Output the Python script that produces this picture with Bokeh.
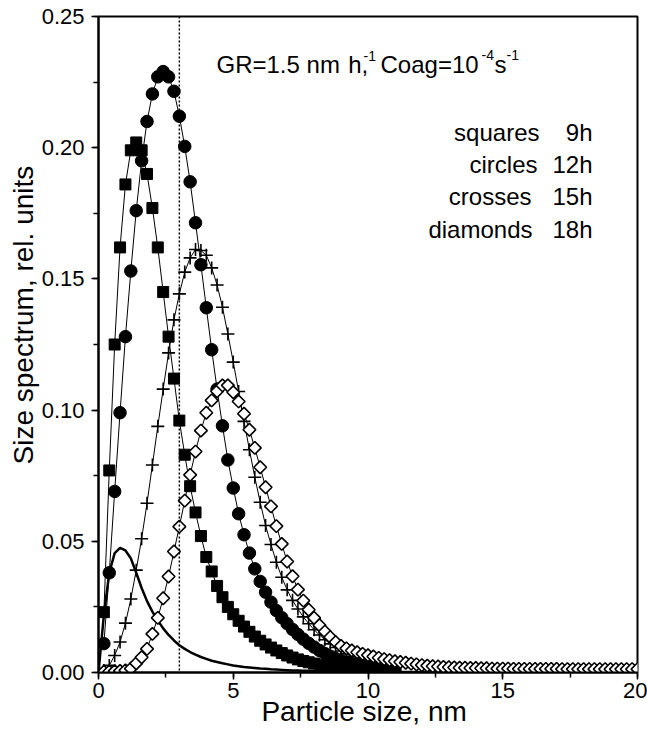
import math
from bokeh.plotting import figure
from bokeh.models import Range1d, SingleIntervalTicker, NumeralTickFormatter, Label, Span, Title
from bokeh.embed import file_html
from bokeh.resources import INLINE

# ---------------- data ----------------
size_grid = [
    0.0, 0.2, 0.4, 0.6, 0.8, 1.0, 1.2, 1.4, 1.6, 1.8,
    2.0, 2.2, 2.4, 2.6, 2.8, 3.0, 3.2, 3.4, 3.6, 3.8,
    4.0, 4.2, 4.4, 4.6, 4.8, 5.0, 5.2, 5.4, 5.6, 5.8,
    6.0, 6.2, 6.4, 6.6, 6.8, 7.0, 7.2, 7.4, 7.6, 7.8,
    8.0, 8.2, 8.4, 8.6, 8.8, 9.0, 9.2, 9.4, 9.6, 9.8,
    10.0, 10.2, 10.4, 10.6, 10.8, 11.0, 11.2, 11.4, 11.6, 11.8,
    12.0, 12.2, 12.4, 12.6, 12.8, 13.0, 13.2, 13.4, 13.6, 13.8,
    14.0, 14.2, 14.4, 14.6, 14.8, 15.0, 15.2, 15.4, 15.6, 15.8,
    16.0, 16.2, 16.4, 16.6, 16.8, 17.0, 17.2, 17.4, 17.6, 17.8,
    18.0, 18.2, 18.4, 18.6, 18.8, 19.0, 19.2, 19.4, 19.6, 19.8,
    20.0,
]

# solid curve (no symbols), from 0.0 nm
solid_curve = [
    0.0, 0.022, 0.038, 0.0455, 0.0475, 0.0465, 0.0435, 0.038, 0.0322, 0.0272,
    0.0232, 0.0198, 0.0168, 0.0143, 0.0122, 0.0104, 0.0090, 0.0078, 0.0068, 0.0059,
    0.0052, 0.0045, 0.0040, 0.0035, 0.0031, 0.0027, 0.0024, 0.0021, 0.0019, 0.0017,
    0.0015, 0.0014, 0.0012, 0.0011, 0.0010, 0.0009, 0.0008, 0.0008, 0.0007, 0.0007,
    0.0006, 0.0006, 0.0005, 0.0005, 0.0005, 0.0004, 0.0004, 0.0004, 0.0003, 0.0003,
    0.0003, 0.0003, 0.0003, 0.0003, 0.0003, 0.0003, 0.0002, 0.0002, 0.0002, 0.0002,
    0.0002, 0.0002, 0.0002, 0.0002, 0.0002, 0.0002, 0.0002, 0.0002, 0.0002, 0.0002,
    0.0002, 0.0001, 0.0001, 0.0001, 0.0001, 0.0001, 0.0001, 0.0001, 0.0001, 0.0001,
    0.0001, 0.0001, 0.0001, 0.0001, 0.0001, 0.0001, 0.0001, 0.0001, 0.0001, 0.0001,
    0.0001, 0.0001, 0.0001, 0.0001, 0.0001, 0.0001, 0.0001, 0.0001, 0.0001, 0.0001,
    0.0001,
]

# symbol series, from 0.2 nm
squares_9h = [
    0.023, 0.077, 0.125, 0.162, 0.186, 0.199, 0.202, 0.199, 0.190, 0.177,
    0.162, 0.145, 0.128, 0.112, 0.096, 0.083, 0.071, 0.061, 0.052, 0.044,
    0.0385, 0.033, 0.0287, 0.025, 0.0222, 0.0197, 0.0175, 0.0155, 0.0137, 0.0121,
    0.0107, 0.0095, 0.0084, 0.0074, 0.0065, 0.0057, 0.0050, 0.0044, 0.0039, 0.0034,
    0.0030, 0.0026, 0.0023, 0.0020, 0.0017, 0.0015, 0.0013, 0.0011, 0.0010, 0.0009,
    0.0008, 0.0007, 0.0006, 0.0005, 0.0005,
]
circles_12h = [
    0.011, 0.038, 0.069, 0.099, 0.128, 0.153, 0.176, 0.195, 0.210, 0.2205,
    0.227, 0.229, 0.227, 0.2215, 0.212, 0.2005, 0.187, 0.1714, 0.1554, 0.139,
    0.123, 0.108, 0.094, 0.081, 0.0703, 0.0605, 0.0525, 0.0455, 0.0395, 0.0347,
    0.0306, 0.0268, 0.0236, 0.0209, 0.0186, 0.0164, 0.0145, 0.0127, 0.0111, 0.0097,
    0.0084, 0.0072, 0.0062, 0.0053, 0.0045, 0.0039, 0.0033, 0.0028, 0.0024, 0.0021,
    0.0018, 0.0016, 0.0014, 0.0012, 0.0011,
]
crosses_15h = [
    0.0008, 0.0027, 0.0065, 0.0116, 0.0188, 0.028, 0.039, 0.051, 0.0645, 0.0791,
    0.0938, 0.108, 0.1218, 0.1344, 0.1443, 0.1526, 0.158, 0.1612, 0.1608, 0.159,
    0.1542, 0.1477, 0.1392, 0.129, 0.1183, 0.1071, 0.0957, 0.0849, 0.0744, 0.0649,
    0.056, 0.0488, 0.042, 0.0363, 0.0315, 0.0275, 0.0242, 0.0212, 0.0186, 0.0163,
    0.0143, 0.0125, 0.0109, 0.0095, 0.0082, 0.0071, 0.0062, 0.0054, 0.0047, 0.0041,
    0.0036, 0.0031, 0.0027, 0.0024, 0.0021,
]
diamonds_18h = [
    0.0003, 0.0004, 0.0005, 0.0006, 0.0008, 0.0015, 0.0035, 0.0058, 0.009, 0.0147,
    0.0208, 0.0283, 0.0366, 0.0461, 0.0556, 0.0655, 0.0753, 0.0842, 0.0922, 0.099,
    0.1037, 0.1072, 0.1094, 0.1094, 0.1068, 0.1033, 0.0986, 0.0925, 0.0856, 0.0782,
    0.0706, 0.0633, 0.0558, 0.049, 0.0423, 0.0367, 0.0316, 0.0274, 0.0239, 0.0208,
    0.018, 0.0156, 0.0135, 0.0116, 0.0101, 0.0092, 0.0084, 0.0077, 0.0071, 0.0066,
    0.0061, 0.0056, 0.0051, 0.0047, 0.0043, 0.0040, 0.0037, 0.0034, 0.0031, 0.0028,
    0.0026, 0.0024, 0.0023, 0.0021, 0.0020, 0.0019, 0.0018, 0.0018, 0.0017, 0.0017,
    0.0016, 0.0016, 0.0015, 0.0015, 0.0015, 0.0015, 0.0014, 0.0014, 0.0014, 0.0014,
    0.0014, 0.0014, 0.0014, 0.0014, 0.0014, 0.0013, 0.0013, 0.0013, 0.0013, 0.0013,
    0.0013, 0.0013, 0.0013, 0.0013, 0.0013, 0.0013, 0.0013, 0.0013, 0.0013, 0.0013,
]

reference_size_nm = 3.0
legend_words = ["squares", "circles", "crosses", "diamonds"]
legend_times = ["9h", "12h", "15h", "18h"]

x_ticks_interval = 5
y_ticks_interval = 0.05

# ---------------- figure ----------------
W, H = 647, 732
L, R, T, B = 98, 10, 16, 60
FONT = "Liberation Sans"

p = figure(width=W, height=H, x_range=Range1d(0, 20), y_range=Range1d(0, 0.25),
           output_backend="svg", toolbar_location=None,
           min_border_left=L, min_border_right=R, min_border_top=T, min_border_bottom=B)
p.xgrid.visible = False
p.ygrid.visible = False
p.outline_line_color = "black"
p.outline_line_width = 2
p.outline_line_alpha = 1.0
p.background_fill_color = "white"
p.border_fill_color = "white"

p.xaxis.ticker = SingleIntervalTicker(interval=x_ticks_interval, num_minor_ticks=2)
p.yaxis.ticker = SingleIntervalTicker(interval=y_ticks_interval, num_minor_ticks=2)
p.yaxis.formatter = NumeralTickFormatter(format="0.00")
for ax in (p.xaxis, p.yaxis):
    ax.axis_line_width = 2
    ax.axis_line_color = "black"
    ax.major_tick_in = 0
    ax.major_tick_out = 7
    ax.minor_tick_in = 0
    ax.minor_tick_out = 5
    ax.major_tick_line_width = 1.5
    ax.minor_tick_line_width = 1.5
    ax.major_tick_line_color = "black"
    ax.minor_tick_line_color = "black"
    ax.major_label_text_font = FONT
    ax.major_label_text_font_size = "22px"
    ax.major_label_text_color = "black"
p.xaxis.major_label_standoff = 3
p.yaxis.major_label_standoff = 7

p.xaxis.axis_label = "Particle size,  nm"
p.xaxis.axis_label_text_font = FONT
p.xaxis.axis_label_text_font_size = "28px"
p.xaxis.axis_label_text_font_style = "normal"
p.xaxis.axis_label_text_color = "black"
p.xaxis.axis_label_standoff = -5

p.add_layout(Title(text="Size spectrum, rel. units", align="left", offset=208,
                   text_font=FONT, text_font_size="28px", text_font_style="normal",
                   text_color="black", vertical_align="bottom", standoff=0), "left")

# dotted reference line
p.add_layout(Span(location=reference_size_nm, dimension="height", line_color="black",
                  line_width=1.5, line_dash="2 2"))

# solid curve
p.line(size_grid, solid_curve, line_color="black", line_width=2.5)

def series(vals):
    return size_grid[1:1 + len(vals)], vals

xs, ys = series(squares_9h)
p.line(xs, ys, line_color="black", line_width=1)
p.scatter(xs, ys, marker="square", size=11, fill_color="black", line_color="black")

xs, ys = series(circles_12h)
p.line(xs, ys, line_color="black", line_width=1)
p.scatter(xs, ys, marker="circle", size=12.5, fill_color="black", line_color="black")

xs, ys = series(crosses_15h)
p.line(xs, ys, line_color="black", line_width=1)
p.scatter(xs, ys, marker="cross", size=13, line_color="black", line_width=1.6)

xs, ys = series(diamonds_18h)
p.line(xs, ys, line_color="black", line_width=1)
p.scatter(xs, ys, marker="square", size=9, angle=math.pi / 4, fill_color="white",
          line_color="black", line_width=1.6)

# ---------------- in-frame texts ----------------
fw = W - L - R
fh = H - T - B

def dx(px):
    return (px - L) / fw * 20

def dy(py):
    return (T + fh - py) / fh * 0.25

def put(text, px, py, size, align="left"):
    p.add_layout(Label(x=dx(px), y=dy(py), text=text, text_font=FONT,
                       text_font_size=f"{size}px", text_color="black",
                       text_align=align, text_baseline="alphabetic"))

put("GR=1.5 nm", 216, 63.5, 24)
put("h", 361, 63.5, 24, align="right")
put(",", 361, 63.5, 24)
put("-1", 363, 55, 14)
put("Coag=10", 380, 63.5, 24)
put("-4", 481, 54, 14)
put("s", 494, 63.5, 24)
put("-1", 506, 54, 14)

rows_base = [131.5, 163.5, 196, 229]
word_right = [539, 537, 531, 532]
for w, t, b, wr in zip(legend_words, legend_times, rows_base, word_right):
    put(w, wr, b, 24, align="right")
    put(t, 592, b, 24, align="right")

open("out.html", "w").write(file_html(p, INLINE))
